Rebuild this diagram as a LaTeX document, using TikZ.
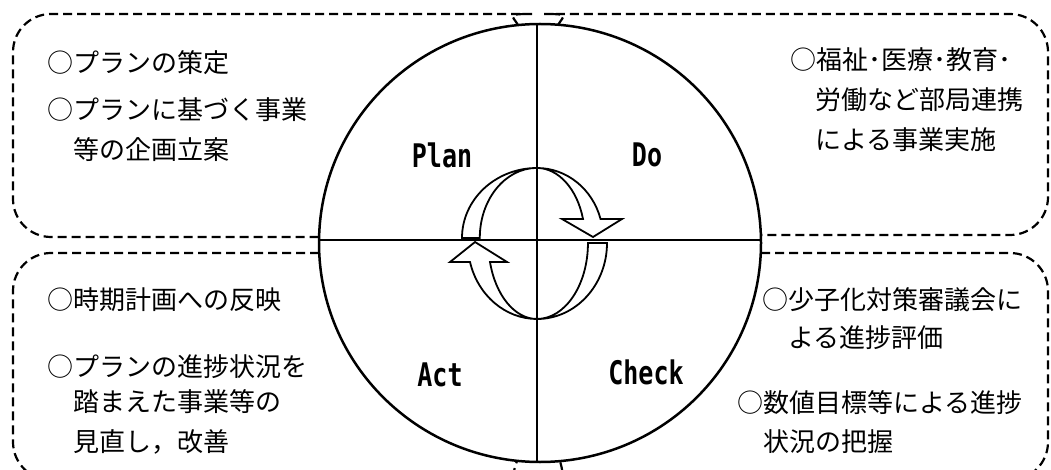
\documentclass[tikz,border=0pt]{standalone}
\usepackage{fontspec}
\newfontfamily\jp{Noto Sans CJK JP}
\newfontfamily\pdcafont{DejaVu Sans Mono}
\begin{document}
\begin{tikzpicture}[x=1pt,y=-1pt,
  box/.style={draw=black, line width=2.2pt, dash pattern=on 9pt off 5pt, rounded corners=38pt},
  jtext/.style={anchor=west, inner sep=0pt, font=\jp\fontsize{26}{30}\selectfont},
  pdcalabel/.style={inner sep=0pt, font=\pdcafont\bfseries\fontsize{25}{30}\selectfont},
  cyc/.style={draw=black, line width=1.8pt, fill=white, line join=miter},
  cross/.style={draw=black, line width=1.2pt}]
\useasboundingbox (0,0) rectangle (1051,470);
% dashed boxes
\draw[box] (518,25) .. controls (512,15) and (506,14) .. (494,14) -- (13,14) -- (13,237) -- (319,237);
\draw[box] (558,25) .. controls (564,15) and (570,14) .. (582,14) -- (1048,14) -- (1048,235) -- (761,235);
\draw[box] (319,253) -- (13,253) -- (13,480) -- (494,480) .. controls (508,480) and (514,470) .. (517,461);
\draw[box] (761,253) -- (1048,253) -- (1048,480) -- (582,480) .. controls (568,480) and (562,470) .. (560,461);
% circle and cross
\node (C) at (540,243) {};
\draw[line width=2.5pt, fill=white] (C.center) ellipse [x radius=221pt, y radius=219pt];
\coordinate (T) at (537,24);
\coordinate (B) at (537,462);
\coordinate (L) at (319,240);
\coordinate (R) at (762,240);
\draw[cross] (T) -- (B);
\draw[cross] (L) -- (R);
% cycle arrows
\draw[cyc] (462,238) arc[start angle=180, end angle=90, x radius=75pt, y radius=70pt]
  arc[start angle=90, end angle=15.7, x radius=66pt, y radius=70pt]
  -- (622,219) -- (593,237) -- (562,219) -- (583,219)
  arc[start angle=15.7, end angle=90, x radius=48pt, y radius=70pt]
  arc[start angle=90, end angle=180, x radius=57pt, y radius=70pt] -- cycle;
\draw[cyc] (607,243) arc[start angle=0, end angle=-90, x radius=70pt, y radius=76pt]
  arc[start angle=-90, end angle=-165.5, x radius=69.2pt, y radius=76pt]
  -- (450,262) -- (475,242) -- (507,262) -- (490,262)
  arc[start angle=-165.5, end angle=-90, x radius=48.5pt, y radius=76pt]
  arc[start angle=-90, end angle=0, x radius=51pt, y radius=76pt] -- cycle;
% PDCA labels
\node[pdcalabel] (plan) at (442,155) {\scalebox{1}[1.3]{Plan}};
\node[pdcalabel] (do) at (647,155) {\scalebox{1}[1.3]{Do}};
\node[pdcalabel] (act) at (440,375) {\scalebox{1}[1.3]{Act}};
\node[pdcalabel] (check) at (646,372) {\scalebox{1}[1.3]{Check}};
% texts
\node[jtext] (tl1) at (47,63) {○プランの策定};
\node[jtext] (tl2) at (47,110) {○プランに基づく事業};
\node[jtext] (tl3) at (73,150) {等の企画立案};
\node[jtext] (tr1) at (790,60) {○福祉･医療･教育･};
\node[jtext] (tr2) at (815,100) {労働など部局連携};
\node[jtext] (tr3) at (815,140) {による事業実施};
\node[jtext] (bl1) at (47,300) {○時期計画への反映};
\node[jtext] (bl2) at (47,367) {○プランの進捗状況を};
\node[jtext] (bl3) at (73,402) {踏まえた事業等の};
\node[jtext] (bl4) at (73,442) {見直し，改善};
\node[jtext] (br1) at (762,300) {○少子化対策審議会に};
\node[jtext] (br2) at (788,338) {よる進捗評価};
\node[jtext] (br3) at (737,403) {○数値目標等による進捗};
\node[jtext] (br4) at (763,442) {状況の把握};
\end{tikzpicture}
\end{document}
